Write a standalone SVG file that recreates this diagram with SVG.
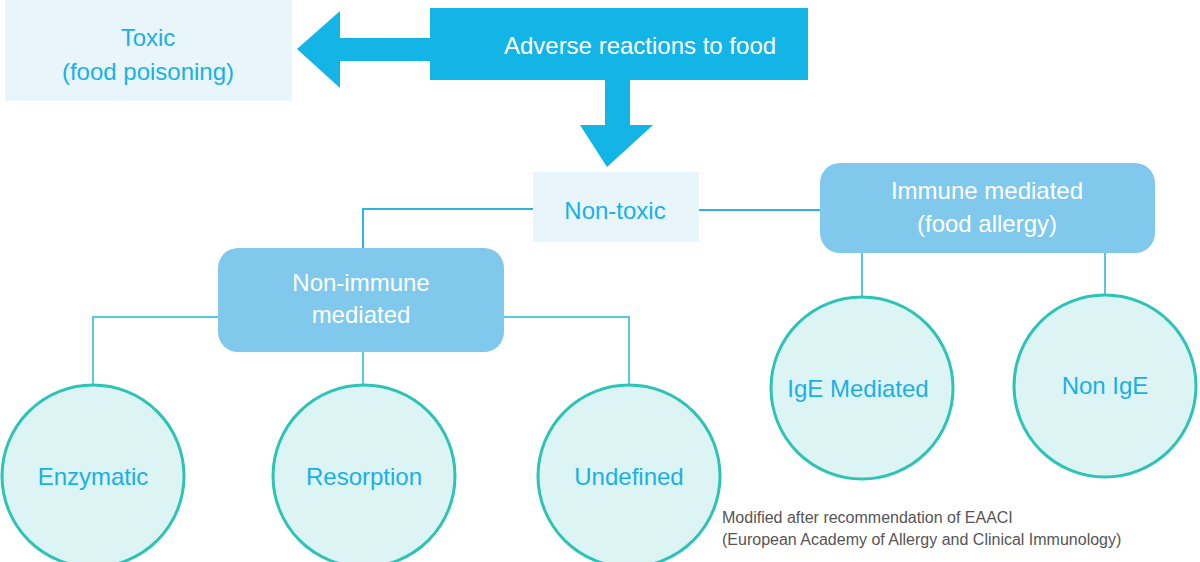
<svg xmlns="http://www.w3.org/2000/svg" width="1200" height="562" viewBox="0 0 1200 562">
<style>
text{font-family:"Liberation Sans",Arial,sans-serif;text-anchor:middle}
.lt{fill:#e8f6fc}
.bt{fill:#1ab0e4;font-size:24px}
.wt{fill:#fff;font-size:24px}
.rr{fill:#80c9ec}
.c{fill:#ddf4f5;stroke:#2dc3b5;stroke-width:3}
.ln{stroke:#2fb3e0;stroke-width:2;fill:none}
.ln2{stroke:#56c8e6;stroke-width:2;fill:none}
</style>
<rect width="1200" height="562" fill="#fff"/>
<g id="connectors">
<polygon points="297,49 340,11 340,38 432,38 432,61 340,61 340,88" fill="#12b5e6"/>
<polygon points="605,78 630,78 630,125 653,125 607,167 580,125 605,125" fill="#12b5e6"/>
<polyline class="ln" points="533,209 363,209 363,248"/>
<polyline class="ln" points="699,210 820,210"/>
<polyline class="ln2" points="218,317 93,317 93,385"/>
<polyline class="ln2" points="363,352 363,384"/>
<polyline class="ln2" points="504,317 629,317 629,384"/>
<polyline class="ln2" points="862,253 862,296"/>
<polyline class="ln2" points="1105,253 1105,296"/>
</g>
<g id="toxic"><rect class="lt" x="5" y="0" width="287" height="101"/><text class="bt" x="148" y="46">Toxic</text><text class="bt" x="148" y="80">(food poisoning)</text></g>
<g id="adverse"><rect x="430" y="8" width="378" height="72" fill="#12b5e6"/><text class="wt" x="640" y="54">Adverse reactions to food</text></g>
<g id="nontoxic"><rect class="lt" x="533" y="172" width="166" height="70"/><text class="bt" x="615" y="219">Non-toxic</text></g>
<g id="immune"><rect class="rr" x="820" y="163" width="335" height="90" rx="20"/><text class="wt" x="987" y="199">Immune mediated</text><text class="wt" x="987" y="232">(food allergy)</text></g>
<g id="nonimmune"><rect class="rr" x="218" y="248" width="286" height="104" rx="20"/><text class="wt" x="361" y="291">Non-immune</text><text class="wt" x="361" y="323">mediated</text></g>
<g id="enzymatic"><circle class="c" cx="93" cy="476" r="91"/><text class="bt" x="93" y="485">Enzymatic</text></g>
<g id="resorption"><circle class="c" cx="364" cy="476" r="91"/><text class="bt" x="364" y="485">Resorption</text></g>
<g id="undefined"><circle class="c" cx="629" cy="476" r="91"/><text class="bt" x="629" y="485">Undefined</text></g>
<g id="ige"><circle class="c" cx="862" cy="388" r="91"/><text class="bt" x="858" y="397">IgE Mediated</text></g>
<g id="nonige"><circle class="c" cx="1105" cy="386" r="91"/><text class="bt" x="1105" y="394">Non IgE</text></g>
<g id="note" fill="#555" font-size="16"><text x="722" y="523" style="text-anchor:start">Modified after recommendation of EAACI</text><text x="722" y="545" style="text-anchor:start">(European Academy of Allergy and Clinical Immunology)</text></g>
</svg>
